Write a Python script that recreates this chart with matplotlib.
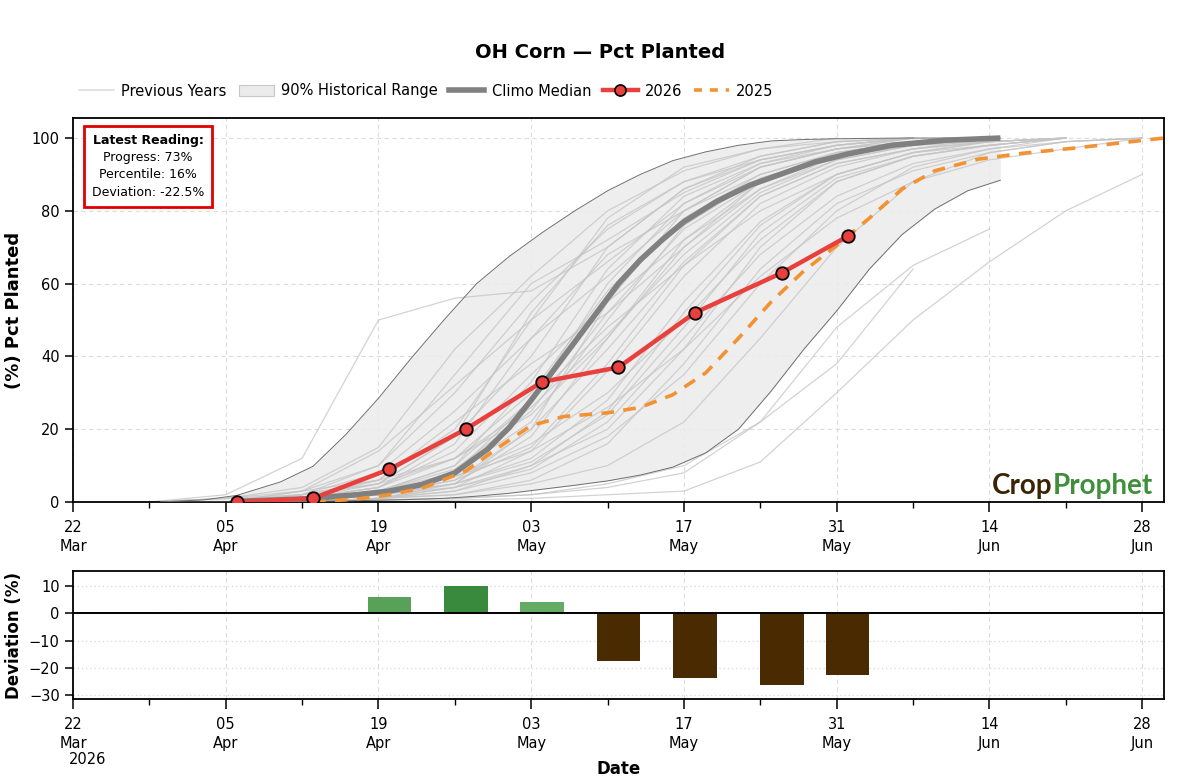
"""
OH Corn planting progress: 2026 vs climatology, with weekly deviation panel.
"""

import numpy as np
import pandas as pd
import matplotlib
matplotlib.use("Agg")
import matplotlib.pyplot as plt
from matplotlib.lines import Line2D
from matplotlib.patches import Patch
from matplotlib.offsetbox import AnchoredOffsetbox, TextArea, VPacker

plt.rcParams['font.family'] = ['DejaVu Sans']

#------------------ data
obs_dates = ["2026-04-06", "2026-04-13", "2026-04-20", "2026-04-27", "2026-05-04",
             "2026-05-11", "2026-05-18", "2026-05-26", "2026-06-01"]
obs_2026 = [0, 1, 9, 20, 33, 37, 52, 63, 73]

dev_dates = obs_dates
dev_values = [0.0, 0.0, 6.0, 10.0, 4.1, -17.4, -23.7, -26.2, -22.5]

median_dates = ["2026-04-06", "2026-04-10", "2026-04-13", "2026-04-17", "2026-04-20",
                "2026-04-23", "2026-04-26", "2026-04-29", "2026-05-01", "2026-05-03",
                "2026-05-05", "2026-05-07", "2026-05-09", "2026-05-11", "2026-05-13",
                "2026-05-15", "2026-05-17", "2026-05-20", "2026-05-23", "2026-05-26",
                "2026-05-29", "2026-06-01", "2026-06-05", "2026-06-10", "2026-06-15"]
median_values = [0.2, 0.6, 1.0, 2.0, 3.0, 4.8, 8.0, 14.5, 20.5, 28.0, 36.0, 44.0, 52.0,
                 60.0, 66.5, 72.0, 77.0, 82.6, 87.0, 90.2, 93.4, 95.6, 98.0, 99.4, 100.0]

band_dates = ["2026-03-30", "2026-04-03", "2026-04-06", "2026-04-10", "2026-04-13",
              "2026-04-16", "2026-04-19", "2026-04-22", "2026-04-25", "2026-04-28",
              "2026-05-01", "2026-05-04", "2026-05-07", "2026-05-10", "2026-05-13",
              "2026-05-16", "2026-05-19", "2026-05-22", "2026-05-25", "2026-05-28",
              "2026-05-31", "2026-06-03", "2026-06-06", "2026-06-09", "2026-06-12",
              "2026-06-15"]
band_upper = [0.0, 0.6, 1.8, 5.5, 9.8, 18.5, 28.5, 39.5, 50.0, 60.0, 67.5, 74.0, 80.0,
              85.5, 90.0, 93.8, 96.2, 98.0, 99.2, 99.6, 99.8, 99.9, 100.0, 100.0, 100.0,
              100.0]
band_lower = [0.0, 0.0, 0.0, 0.1, 0.2, 0.3, 0.5, 0.7, 1.0, 1.6, 2.4, 3.5, 4.6, 5.8, 7.4,
              9.6, 13.5, 20.0, 30.5, 42.0, 52.5, 64.0, 73.5, 80.5, 85.5, 88.4]

y2025_dates = ["2026-04-13", "2026-04-17", "2026-04-20", "2026-04-23", "2026-04-27",
               "2026-04-30", "2026-05-03", "2026-05-06", "2026-05-10", "2026-05-13",
               "2026-05-16", "2026-05-19", "2026-05-22", "2026-05-25", "2026-05-28",
               "2026-05-31", "2026-06-03", "2026-06-06", "2026-06-09", "2026-06-13",
               "2026-06-17", "2026-06-22", "2026-06-27", "2026-06-30"]
y2025_values = [0.0, 0.8, 2.0, 3.8, 8.5, 15.0, 21.0, 23.5, 24.5, 26.0, 29.5, 35.5, 45.0,
                55.0, 63.5, 70.5, 78.0, 86.0, 91.0, 94.2, 95.8, 97.3, 99.0, 100.0]

# previous seasons, weekly reports aligned to the current calendar
week_dates = ["2026-03-29", "2026-04-05", "2026-04-12", "2026-04-19", "2026-04-26",
              "2026-05-03", "2026-05-10", "2026-05-17", "2026-05-24", "2026-05-31",
              "2026-06-07", "2026-06-14", "2026-06-21", "2026-06-28"]
N = None
previous_years = [
    [0, 1, 4, 15, 42, 62, 80, 91, 97, 100],
    [0, 2, 12, 50, 56, 58, 70, 86, 95, 99, 100],
    [N, 0, 3, 10, 30, 55, 75, 88, 95, 99, 100],
    [N, 0, 1, 4, 12, 30, 58, 78, 90, 96, 99, 100],
    [N, 0, 1, 3, 8, 22, 50, 76, 89, 95, 98, 100],
    [N, N, 0, 2, 6, 15, 38, 65, 84, 93, 97, 99, 100],
    [N, 0, 1, 2, 5, 12, 28, 55, 77, 90, 96, 99, 100],
    [N, 0, 2, 8, 25, 45, 62, 80, 92, 97, 100],
    [N, N, 0, 1, 4, 10, 20, 42, 70, 88, 95, 98, 100],
    [N, 0, 1, 5, 18, 40, 70, 86, 94, 98, 100],
    [N, N, 0, 1, 3, 8, 18, 35, 60, 80, 92, 97, 100],
    [N, 0, 1, 3, 10, 33, 64, 84, 93, 97, 99, 100],
    [N, N, 0, 1, 2, 5, 10, 22, 45, 70, 88, 96, 99, 100],
    [N, 0, 1, 4, 14, 35, 55, 72, 86, 94, 98, 100],
    [N, 0, 2, 6, 20, 50, 78, 92, 97, 99, 100],
    [N, N, 0, 2, 5, 18, 45, 72, 88, 95, 98, 100],
    [N, 0, 1, 3, 7, 16, 30, 50, 72, 88, 95, 98, 100],
    [N, 0, 2, 10, 35, 60, 72, 85, 94, 98, 100],
    [N, N, 0, 0.5, 1, 2, 5, 10, 22, 38, 64],
    [N, N, 0, 0.5, 1, 2, 4, 8, 22, 48, 65, 75],
    [N, N, N, 0, 0.5, 1, 2, 3, 11, 30, 50, 66, 80, 90],
    [N, 0, 1, 3, 9, 25, 52, 75, 88, 95, 98, 99, 100],
    [N, N, 0, 2, 8, 28, 60, 82, 93, 98, 100],
    [N, 0, 1, 2, 6, 20, 42, 66, 84, 93, 97, 100],
    [0, 1, 3, 6, 12, 24, 45, 70, 88, 96, 99, 100],
    [N, 0, 1, 4, 16, 45, 68, 80, 90, 96, 99, 100],
    [N, N, 0, 1, 4, 14, 36, 62, 82, 92, 97, 99, 100],
    [N, 0, 1, 3, 10, 28, 48, 65, 80, 90, 96, 99, 100],
    [N, 0, 2, 5, 12, 26, 46, 68, 85, 94, 98, 100],
    [N, N, 0, 1, 5, 20, 55, 80, 92, 97, 99, 100],
    [N, 0, 1, 2, 4, 9, 22, 45, 68, 84, 93, 97, 99, 100],
    [0, 1, 2, 5, 18, 52, 76, 88, 94, 98, 100],
    [N, N, 0, 1, 3, 10, 25, 52, 76, 90, 96, 98, 100],
    [N, 0, 1, 3, 7, 14, 26, 42, 62, 78, 88, 94, 97, 100],
    [N, 0, 1, 2, 5, 11, 24, 48, 74, 89, 95, 98, 100],
    [N, N, 0, 1, 2, 6, 16, 38, 64, 82, 91, 96, 99, 100],
    [N, 0, 1, 6, 22, 38, 52, 70, 86, 95, 99, 100],
    [N, 0, 3, 14, 32, 50, 66, 82, 92, 97, 100],
]

x_start, x_end = "2026-03-22", "2026-06-30"
tick_major = pd.date_range(x_start, x_end, freq="14D")
tick_minor = pd.date_range(x_start, x_end, freq="7D")

latest = {"Progress": "73%", "Percentile": "16%", "Deviation": "-22.5%"}

#------------------ colours
C_PREV = '#c4c4c4'
C_BAND = '#ececec'
C_BAND_EDGE = '#6e6e6e'
C_MEDIAN = '#808080'
C_2026 = '#e8403c'
C_2025 = '#f29232'


def to_dt(values):
    return pd.to_datetime(values)


def to_y(values):
    return np.array([np.nan if v is None else v for v in values], dtype=float)


def dev_colour(v):
    if v >= 0:
        t = min(v / 10.0, 1.0)
        lo, hi = np.array([130, 196, 130]), np.array([58, 138, 62])
    else:
        t = min(-v / 10.0, 1.0)
        lo, hi = np.array([170, 130, 80]), np.array([74, 42, 0])
    return tuple((lo + (hi - lo) * t) / 255.0)


#------------------ function style_date_axis
def style_date_axis(ax):
    ax.set_xlim(pd.Timestamp(x_start), pd.Timestamp(x_end))
    ax.set_xticks(tick_major)
    ax.set_xticks(tick_minor, minor=True)
    labels = [d.strftime("%d\n%b") for d in tick_major]
    ax.set_xticklabels(labels, fontsize=10.5, linespacing=1.3)
    ax.tick_params(axis='x', which='major', direction='out', length=7, width=1.1, pad=6)
    ax.tick_params(axis='x', which='minor', direction='out', length=4, width=1.0)
    ax.tick_params(axis='y', direction='out', length=6, width=1.1, labelsize=10.5)
    for s in ax.spines.values():
        s.set_linewidth(1.3)
        s.set_color('black')
    ax.set_axisbelow(True)


fig = plt.figure(figsize=(12, 7.8), dpi=100)
ax = fig.add_axes([0.0608, 0.3564, 0.9092, 0.4923])
axd = fig.add_axes([0.0608, 0.1038, 0.9092, 0.1641])

#------------------ main panel
wd = to_dt(week_dates)
for row in previous_years:
    y = to_y(row + [None] * (len(week_dates) - len(row)))
    ax.plot(wd, y, color=C_PREV, lw=0.9, alpha=0.75, zorder=2)

bd = to_dt(band_dates)
ax.fill_between(bd, band_lower, band_upper, color=C_BAND, alpha=0.85, lw=0, zorder=1)
ax.plot(bd, band_upper, color=C_BAND_EDGE, lw=0.7, zorder=3)
ax.plot(bd, band_lower, color=C_BAND_EDGE, lw=0.7, zorder=3)

ax.plot(to_dt(median_dates), median_values, color=C_MEDIAN, lw=4, zorder=4,
        solid_capstyle='butt')
ax.plot(to_dt(y2025_dates), y2025_values, color=C_2025, lw=2.6, dashes=(3.5, 2.6), zorder=5)
ax.plot(to_dt(obs_dates), obs_2026, color=C_2026, lw=3.2, marker='o', ms=9,
        mfc=C_2026, mec='black', mew=1.3, zorder=6)

ax.set_ylim(0, 105.5)
ax.set_yticks(np.arange(0, 101, 20))
ax.grid(True, which='major', color='#dcdcdc', linestyle=(0, (4, 3)), lw=0.8)
style_date_axis(ax)
ax.set_ylabel("(%) Pct Planted", fontsize=13, fontweight='bold')
ax.yaxis.set_label_coords(-0.046, 0.5)

# latest reading box
title = TextArea("Latest Reading:", textprops=dict(fontsize=9, fontweight='bold'))
body = TextArea("\n".join(f"{k}: {v}" for k, v in latest.items()),
                textprops=dict(fontsize=9, multialignment='center', linespacing=1.45))
pack = VPacker(children=[title, body], align='center', pad=0, sep=3)
box = AnchoredOffsetbox(loc='upper left', child=pack, pad=0.55, borderpad=0, frameon=True,
                        bbox_to_anchor=(0.0105, 0.979), bbox_transform=ax.transAxes)
box.patch.set_boxstyle("square,pad=0")
box.patch.set_edgecolor('#e00000')
box.patch.set_linewidth(2)
box.zorder = 10
ax.add_artist(box)

# logo
t2 = ax.text(0.99, 0.008, "Prophet", transform=ax.transAxes, ha='right', va='bottom',
             fontsize=20, fontweight='bold', family=['Lato', 'DejaVu Sans'], color='#3f8f3c',
             zorder=10)
ax.annotate("Crop", xy=(0, 0), xycoords=t2, ha='right', va='bottom', fontsize=20,
            fontweight='bold', family=['Lato', 'DejaVu Sans'], color='#3b2406', zorder=10)

#------------------ legend
handles = [
    Line2D([], [], color='#dddddd', lw=1.2),
    Patch(facecolor='#ebebeb', edgecolor='#c8c8c8', lw=0.8),
    Line2D([], [], color=C_MEDIAN, lw=4),
    Line2D([], [], color=C_2026, lw=3.2, marker='o', ms=8, mfc=C_2026, mec='black', mew=1.2),
    Line2D([], [], color=C_2025, lw=2.6, dashes=(2.2, 2.2)),
]
names = ["Previous Years", "90% Historical Range", "Climo Median", "2026", "2025"]
fig.legend(handles, names, loc='center left', bbox_to_anchor=(0.066, 1 - 91 / 780), ncol=5,
           frameon=False, fontsize=10.5, handlelength=2.4, columnspacing=0.8,
           handletextpad=0.5, borderpad=0, borderaxespad=0)

fig.suptitle("OH Corn \u2014 Pct Planted", y=1 - 52 / 780, va='center', fontsize=14,
             fontweight='bold')

#------------------ deviation panel
dd = to_dt(dev_dates)
axd.bar(dd, dev_values, width=4, color=[dev_colour(v) for v in dev_values], lw=0, zorder=3)
axd.axhline(0, color='black', lw=1.4, zorder=4)
axd.set_ylim(-31.4, 15.4)
axd.set_yticks([10, 0, -10, -20, -30])
axd.grid(True, axis='x', which='major', color='#dcdcdc', linestyle=(0, (4, 3)), lw=0.8)
axd.grid(True, axis='y', color='#dcdcdc', linestyle=(0, (1, 2)), lw=1.0)
style_date_axis(axd)
axd.set_ylabel("Deviation (%)", fontsize=12, fontweight='bold')
axd.yaxis.set_label_coords(-0.046, 0.5)
axd.set_xlabel("Date", fontsize=12, fontweight='bold', labelpad=7)
fig.text(88 / 1200, 1 - 760 / 780, "2026", ha='center', va='center', fontsize=10.5)

fig.savefig("out.png", dpi=100)
